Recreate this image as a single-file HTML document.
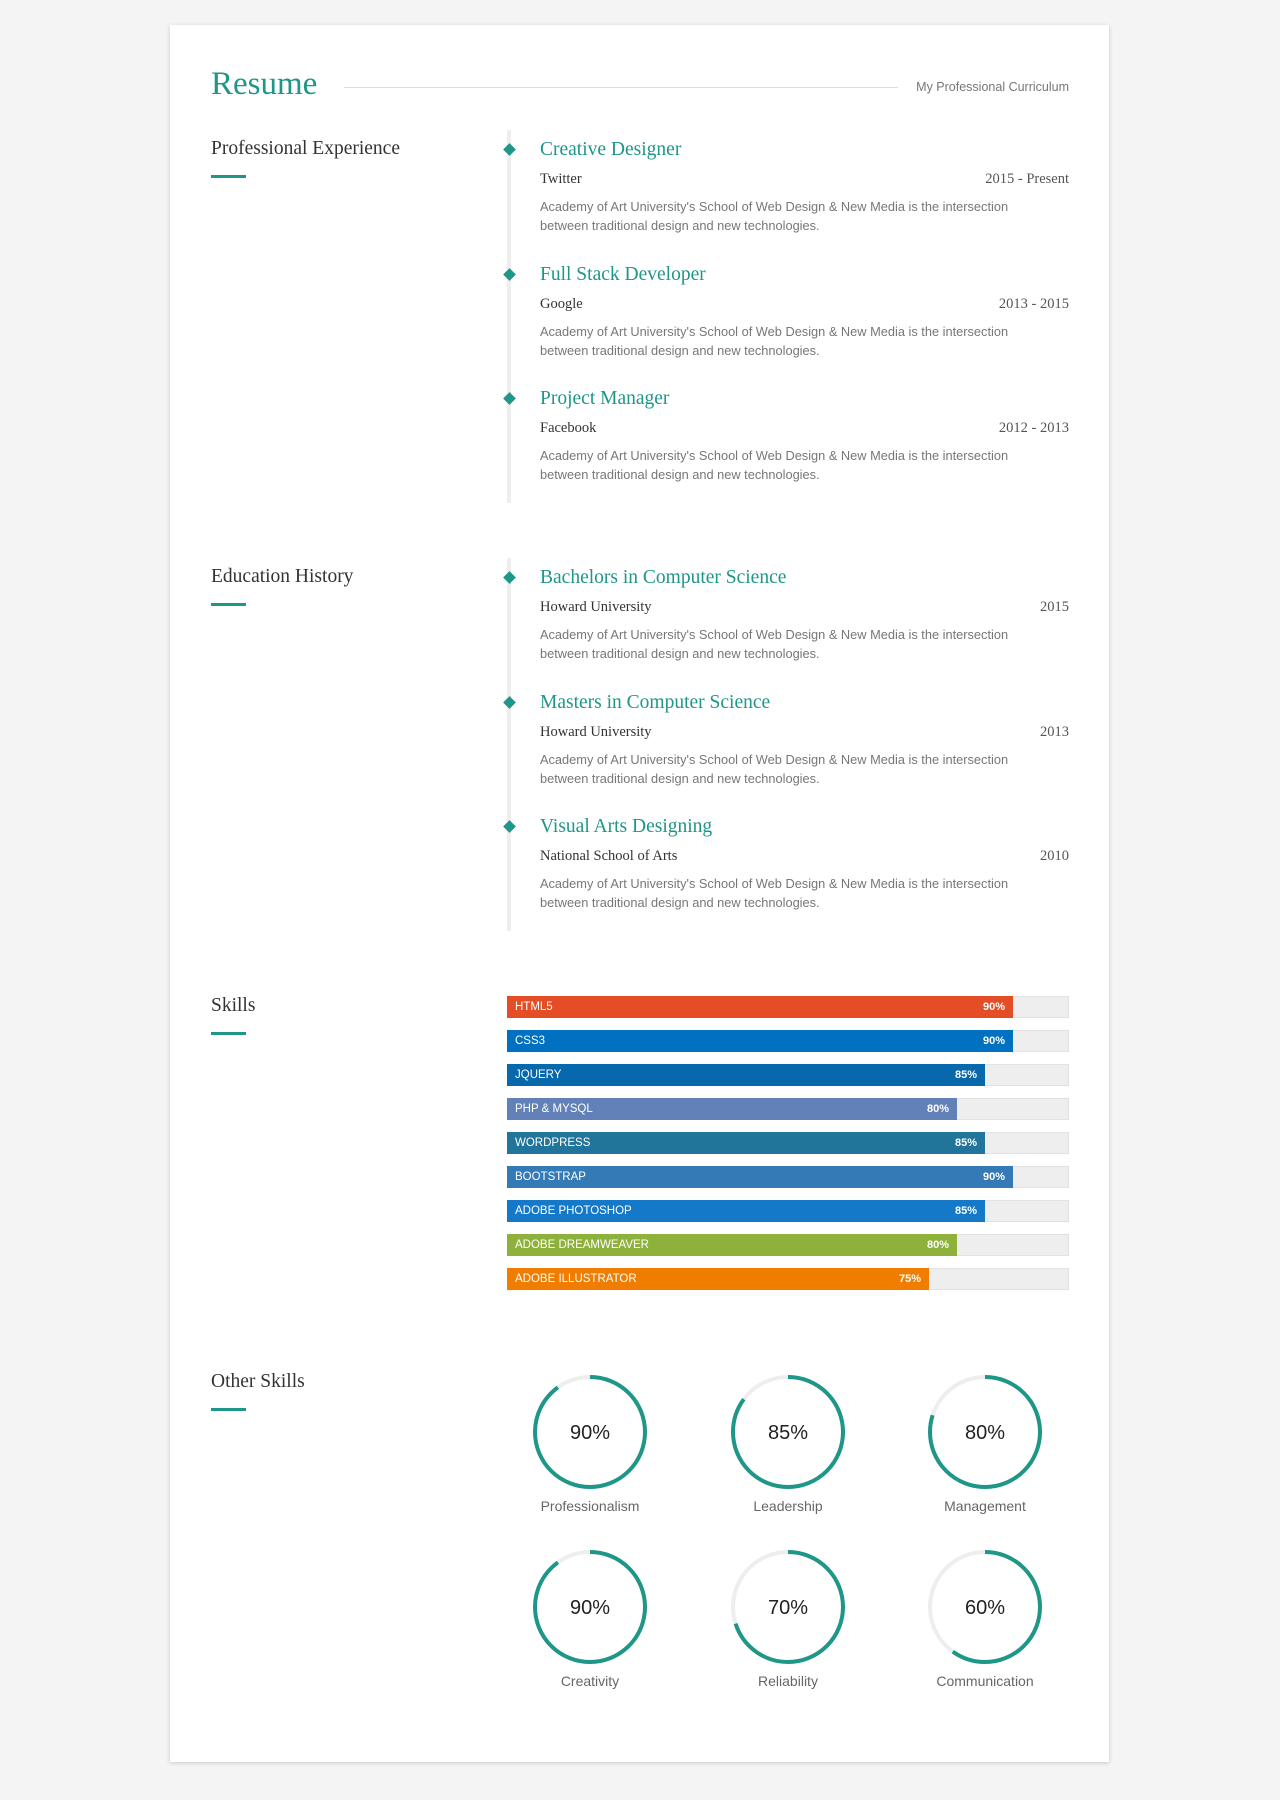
<!DOCTYPE html>
<html><head><meta charset="utf-8"><style>
*{margin:0;padding:0;box-sizing:border-box}
body{width:1280px;height:1800px;background:#f4f4f4;position:relative;font-family:"Liberation Sans",sans-serif;overflow:hidden}
.card{position:absolute;left:170px;top:25px;width:939px;height:1737px;background:#fff;box-shadow:0 1px 4px rgba(0,0,0,.18)}
.a{position:absolute;white-space:nowrap}
.serif{font-family:"Liberation Serif",serif}
.sec{font-size:19.5px;color:#333}
.ul{position:absolute;width:35px;height:3px;background:#1e9688}
.tl{position:absolute;left:507px;width:4px;background:#eee}
.dia{position:absolute;left:505px;width:9px;height:9px;background:#1e9688;transform:rotate(45deg)}
.t{font-size:19.5px;color:#1e9688}
.co{font-size:14.5px;color:#333}
.dt{font-size:14.5px;color:#555}
.ds{font-size:12.8px;color:#777;line-height:19px}
.bar{position:absolute;left:507px;width:562px;height:22px;background:#eee;border:1px solid #e2e2e2}
.fill{position:absolute;left:-1px;top:-1px;height:22px;color:#fff;font-size:11.5px;line-height:22px;padding-left:8px}
.fill b{position:absolute;right:8px;top:0;font-size:11px}
.lab{position:absolute;width:160px;text-align:center;font-size:14px;color:#666}
.wrap{position:absolute;left:0;top:0;width:1280px;height:1800px}
</style></head><body>
<div class="card"></div>
<div class="a serif" style="left:211px;top:66px;font-size:33px;color:#1e9688">Resume</div>
<div class="a" style="left:344px;top:87px;width:554px;height:1px;background:#ddd"></div>
<div class="a" style="right:211px;top:80px;font-size:12.5px;color:#777">My Professional Curriculum</div>

<div class="a serif sec" style="left:211px;top:138px">Professional Experience</div>
<div class="ul" style="left:211px;top:175px"></div>
<div class="tl" style="top:130px;height:373px"></div>

<div class="a serif sec" style="left:211px;top:566px">Education History</div>
<div class="ul" style="left:211px;top:603px"></div>
<div class="tl" style="top:558px;height:373px"></div>

<div class="a serif sec" style="left:211px;top:995px">Skills</div>
<div class="ul" style="left:211px;top:1032px"></div>

<div class="a serif sec" style="left:211px;top:1371px">Other Skills</div>
<div class="ul" style="left:211px;top:1408px"></div>

<div class="wrap">
<div class="dia" style="top:145px"></div>
<div class="a serif t" style="left:540px;top:139px">Creative Designer</div>
<div class="a serif co" style="left:540px;top:171px">Twitter</div>
<div class="a serif dt" style="right:211px;top:171px">2015 - Present</div>
<div class="a ds" style="left:540px;top:197px">Academy of Art University's School of Web Design &amp; New Media is the intersection<br>between traditional design and new technologies.</div>

<div class="dia" style="top:270px"></div>
<div class="a serif t" style="left:540px;top:264px">Full Stack Developer</div>
<div class="a serif co" style="left:540px;top:296px">Google</div>
<div class="a serif dt" style="right:211px;top:296px">2013 - 2015</div>
<div class="a ds" style="left:540px;top:322px">Academy of Art University's School of Web Design &amp; New Media is the intersection<br>between traditional design and new technologies.</div>

<div class="dia" style="top:394px"></div>
<div class="a serif t" style="left:540px;top:388px">Project Manager</div>
<div class="a serif co" style="left:540px;top:420px">Facebook</div>
<div class="a serif dt" style="right:211px;top:420px">2012 - 2013</div>
<div class="a ds" style="left:540px;top:446px">Academy of Art University's School of Web Design &amp; New Media is the intersection<br>between traditional design and new technologies.</div>

<div class="dia" style="top:573px"></div>
<div class="a serif t" style="left:540px;top:567px">Bachelors in Computer Science</div>
<div class="a serif co" style="left:540px;top:599px">Howard University</div>
<div class="a serif dt" style="right:211px;top:599px">2015</div>
<div class="a ds" style="left:540px;top:625px">Academy of Art University's School of Web Design &amp; New Media is the intersection<br>between traditional design and new technologies.</div>

<div class="dia" style="top:698px"></div>
<div class="a serif t" style="left:540px;top:692px">Masters in Computer Science</div>
<div class="a serif co" style="left:540px;top:724px">Howard University</div>
<div class="a serif dt" style="right:211px;top:724px">2013</div>
<div class="a ds" style="left:540px;top:750px">Academy of Art University's School of Web Design &amp; New Media is the intersection<br>between traditional design and new technologies.</div>

<div class="dia" style="top:822px"></div>
<div class="a serif t" style="left:540px;top:816px">Visual Arts Designing</div>
<div class="a serif co" style="left:540px;top:848px">National School of Arts</div>
<div class="a serif dt" style="right:211px;top:848px">2010</div>
<div class="a ds" style="left:540px;top:874px">Academy of Art University's School of Web Design &amp; New Media is the intersection<br>between traditional design and new technologies.</div>
</div>

<div class="bar" style="top:996px"><div class="fill" style="width:506px;background:#e44d26">HTML5<b>90%</b></div></div>
<div class="bar" style="top:1030px"><div class="fill" style="width:506px;background:#0070c0">CSS3<b>90%</b></div></div>
<div class="bar" style="top:1064px"><div class="fill" style="width:478px;background:#0868ac">JQUERY<b>85%</b></div></div>
<div class="bar" style="top:1098px"><div class="fill" style="width:450px;background:#6181b8">PHP &amp; MYSQL<b>80%</b></div></div>
<div class="bar" style="top:1132px"><div class="fill" style="width:478px;background:#21759b">WORDPRESS<b>85%</b></div></div>
<div class="bar" style="top:1166px"><div class="fill" style="width:506px;background:#337ab7">BOOTSTRAP<b>90%</b></div></div>
<div class="bar" style="top:1200px"><div class="fill" style="width:478px;background:#1479c9">ADOBE PHOTOSHOP<b>85%</b></div></div>
<div class="bar" style="top:1234px"><div class="fill" style="width:450px;background:#8db13b">ADOBE DREAMWEAVER<b>80%</b></div></div>
<div class="bar" style="top:1268px"><div class="fill" style="width:422px;background:#f07c00">ADOBE ILLUSTRATOR<b>75%</b></div></div>

<svg class="a" style="left:0;top:0" width="1280" height="1800">
<g fill="none" stroke-width="4">
<g transform="translate(590,1432)"><circle r="55" stroke="#eee"/><circle r="55" stroke="#1e9688" stroke-dasharray="311 400" transform="rotate(-90)"/></g>
<g transform="translate(788,1432)"><circle r="55" stroke="#eee"/><circle r="55" stroke="#1e9688" stroke-dasharray="294 400" transform="rotate(-90)"/></g>
<g transform="translate(985,1432)"><circle r="55" stroke="#eee"/><circle r="55" stroke="#1e9688" stroke-dasharray="276 400" transform="rotate(-90)"/></g>
<g transform="translate(590,1607)"><circle r="55" stroke="#eee"/><circle r="55" stroke="#1e9688" stroke-dasharray="311 400" transform="rotate(-90)"/></g>
<g transform="translate(788,1607)"><circle r="55" stroke="#eee"/><circle r="55" stroke="#1e9688" stroke-dasharray="242 400" transform="rotate(-90)"/></g>
<g transform="translate(985,1607)"><circle r="55" stroke="#eee"/><circle r="55" stroke="#1e9688" stroke-dasharray="207 400" transform="rotate(-90)"/></g>
</g>
<g font-family="Liberation Sans, sans-serif" font-size="20" fill="#222" text-anchor="middle">
<text x="590" y="1439">90%</text><text x="788" y="1439">85%</text><text x="985" y="1439">80%</text>
<text x="590" y="1614">90%</text><text x="788" y="1614">70%</text><text x="985" y="1614">60%</text>
</g>
</svg>
<div class="lab" style="left:510px;top:1498px">Professionalism</div>
<div class="lab" style="left:708px;top:1498px">Leadership</div>
<div class="lab" style="left:905px;top:1498px">Management</div>
<div class="lab" style="left:510px;top:1673px">Creativity</div>
<div class="lab" style="left:708px;top:1673px">Reliability</div>
<div class="lab" style="left:905px;top:1673px">Communication</div>
</body></html>
